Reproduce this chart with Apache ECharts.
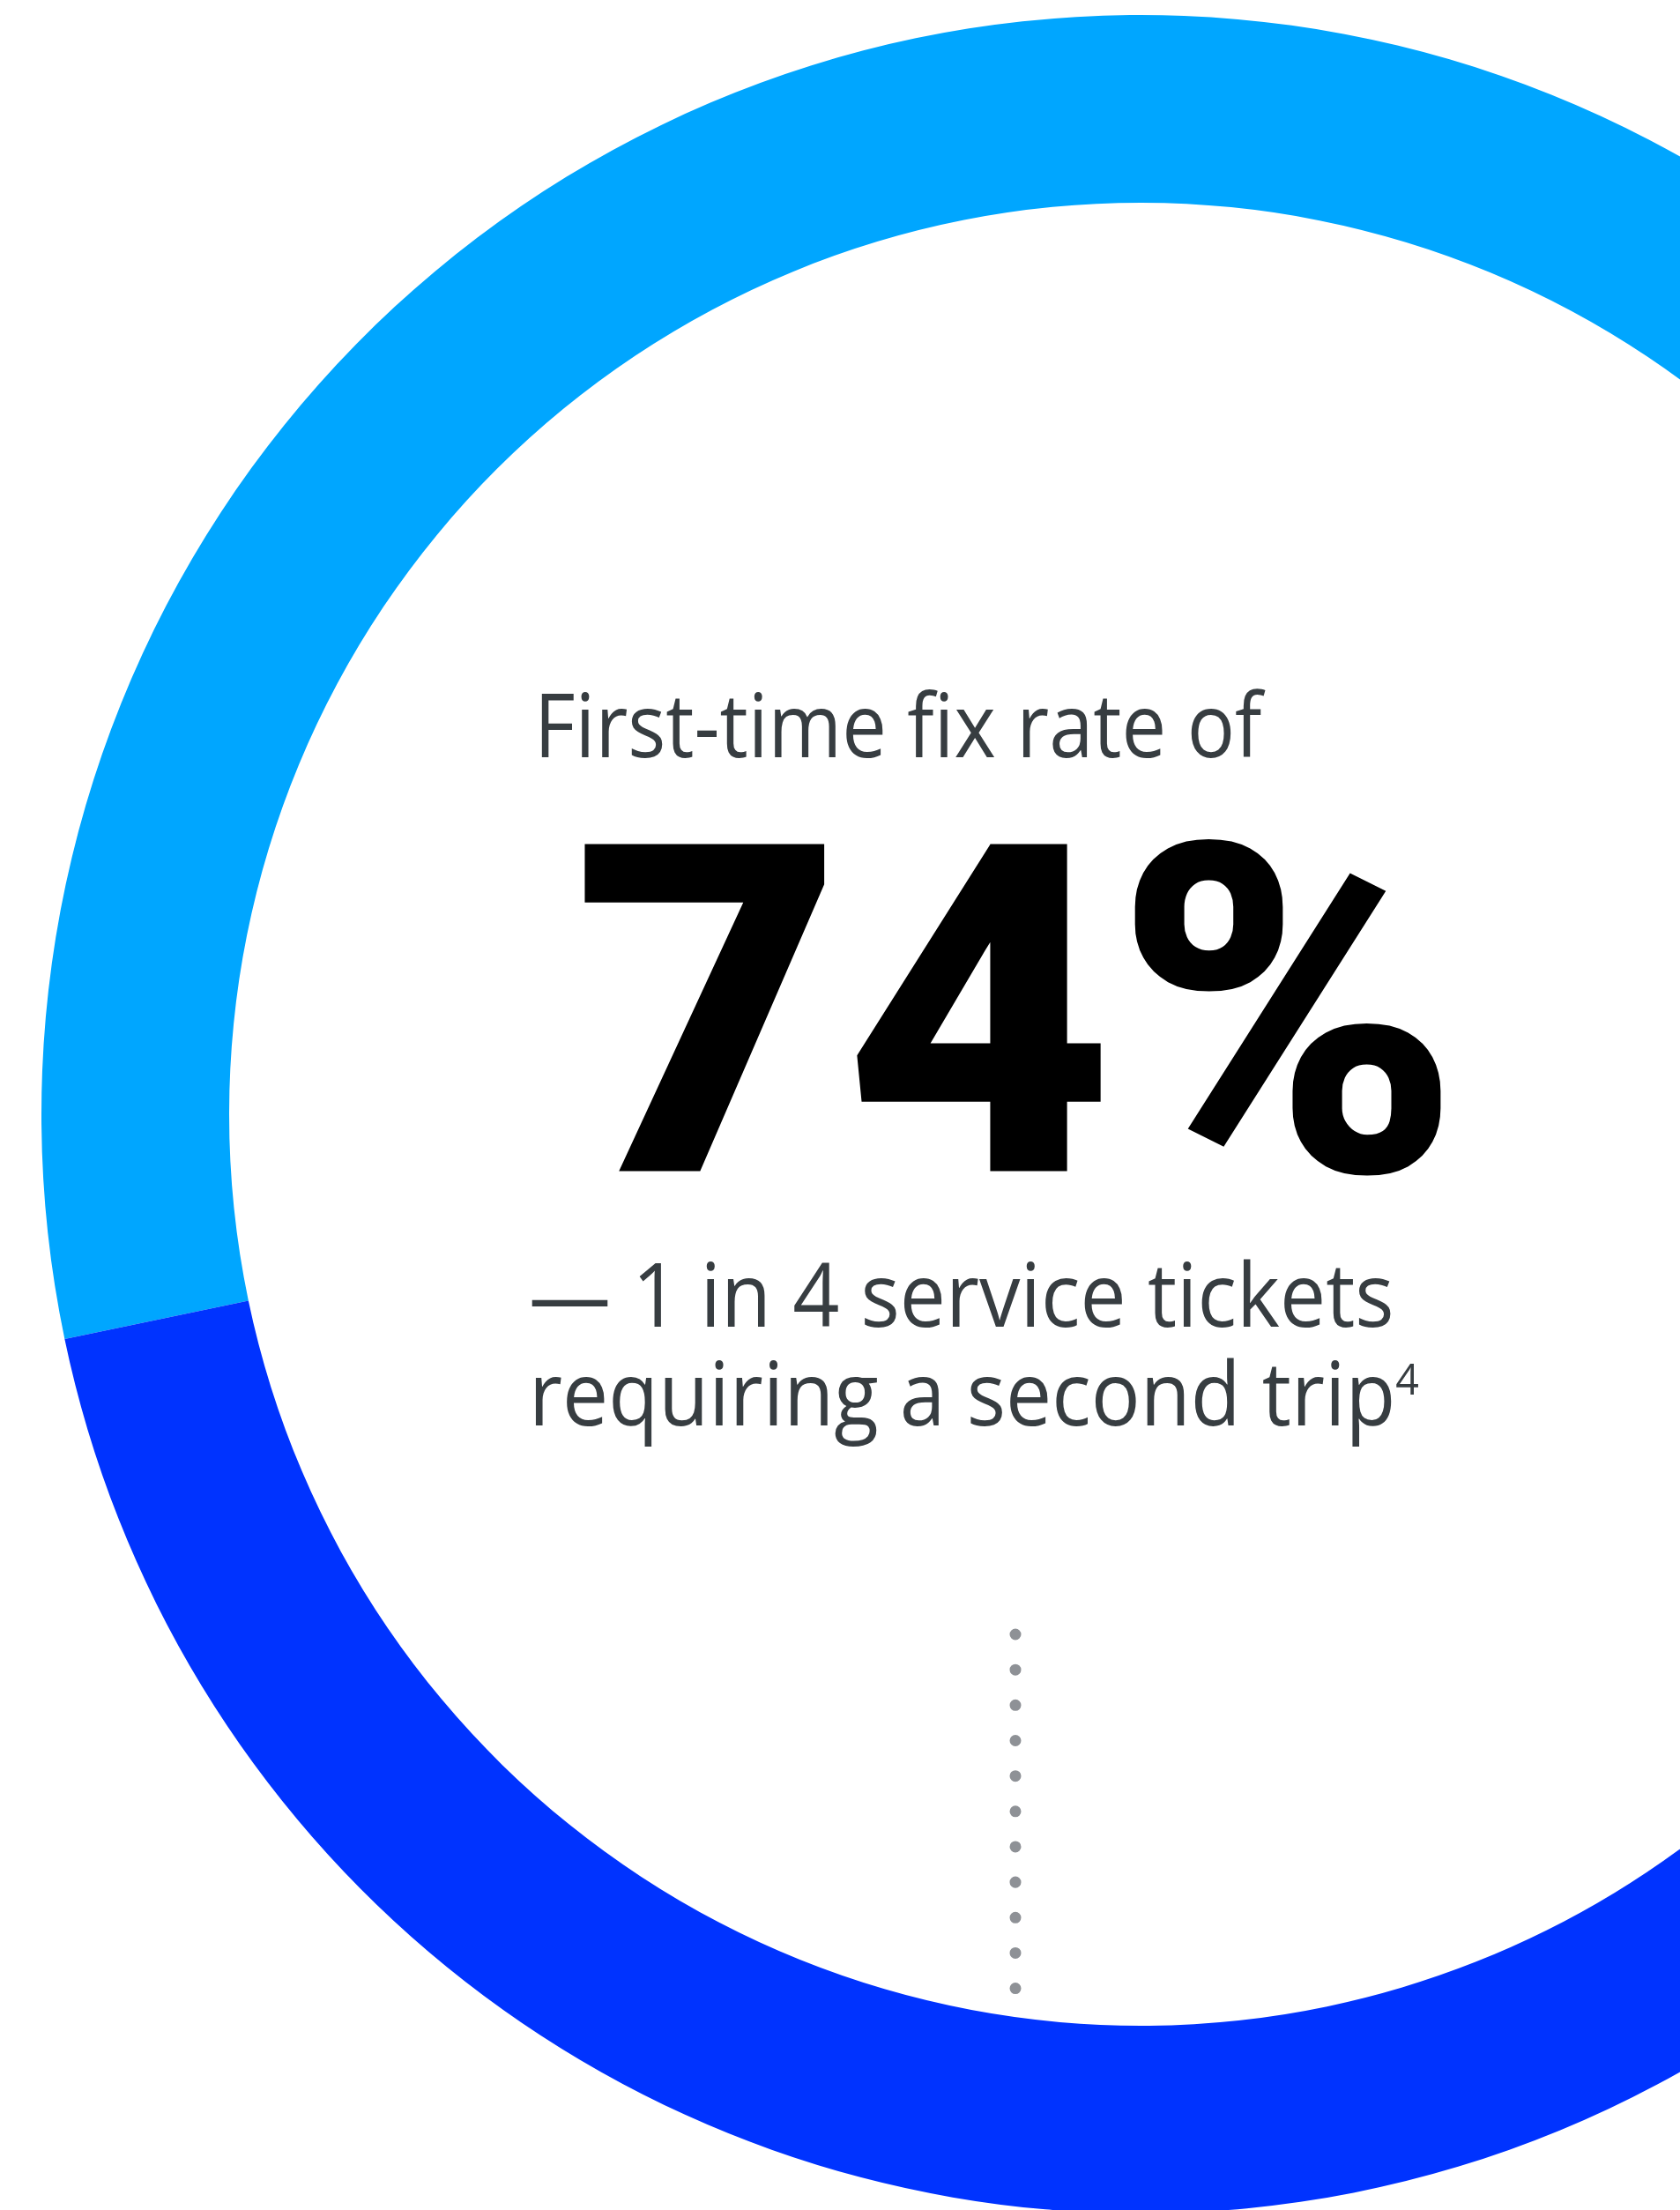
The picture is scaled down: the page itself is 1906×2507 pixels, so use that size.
<!DOCTYPE html>
<html>
<head>
<meta charset="utf-8">
<style>
  html, body { margin: 0; padding: 0; background: #ffffff; }
  #chart { width: 1906px; height: 2507px; }
</style>
<script src="https://cdn.jsdelivr.net/npm/echarts@6/dist/echarts.min.js"></script>
</head>
<body>
<div id="chart"></div>
<script>
// Ring segments as seen in the picture (share of the full ring)
const segmentNames = ['First-time fix', 'Second trip required'];
const segmentValues = [53.3, 46.7];
const segmentColors = ['#00A6FF', '#0033FF'];

// Text content
const headline = 'First-time fix rate of';
const bigValue = '74%';
const noteLine1 = '— 1 in 4 service tickets';
const noteLine2 = 'requiring a second trip';
const footnoteMark = '4';

const chart = echarts.init(document.getElementById('chart'), null, { renderer: 'canvas' });

const textColor = '#373D41';
const bodyFont = '"Open Sans", "Noto Sans", sans-serif';
const bodyFontStr = '400 100px ' + bodyFont;

const option = {
  backgroundColor: '#ffffff',
  animation: false,
  series: [{
    type: 'pie',
    center: [1294, 1264],
    radius: [1034, 1247],
    startAngle: 191.8,
    clockwise: true,
    silent: true,
    label: { show: false },
    labelLine: { show: false },
    z: 2,
    data: segmentNames.map((n, i) => ({
      name: n,
      value: segmentValues[i],
      itemStyle: { color: segmentColors[i], borderWidth: 0 }
    }))
  }],
  graphic: [
    {
      type: 'line', z: 1,
      shape: { x1: 1152, y1: 1854, x2: 1152, y2: 2262 },
      style: { stroke: '#8E9196', lineWidth: 13, lineCap: 'round', lineDash: [0.01, 40.15] }
    },
    {
      type: 'text', z: 5, left: 606, top: 781, scaleX: 0.903,
      style: { text: headline, font: bodyFontStr, fill: textColor }
    },
    {
      type: 'text', z: 5, left: 650, top: 937, scaleX: 1.015,
      style: { text: bigValue, font: '900 522px Roboto, sans-serif', fill: '#000000' }
    },
    {
      type: 'text', z: 5, left: 600, top: 1421, scaleX: 0.93,
      style: {
        text: noteLine1 + '\n' + noteLine2 + '{sup|' + footnoteMark + '}',
        font: bodyFontStr, fill: textColor, lineHeight: 112,
        rich: { sup: { fontSize: 50, fontFamily: 'Open Sans', fill: textColor, verticalAlign: 'top', lineHeight: 60, padding: [10, 0, 0, 0] } }
      }
    }
  ]
};
chart.setOption(option);
</script>
</body>
</html>
